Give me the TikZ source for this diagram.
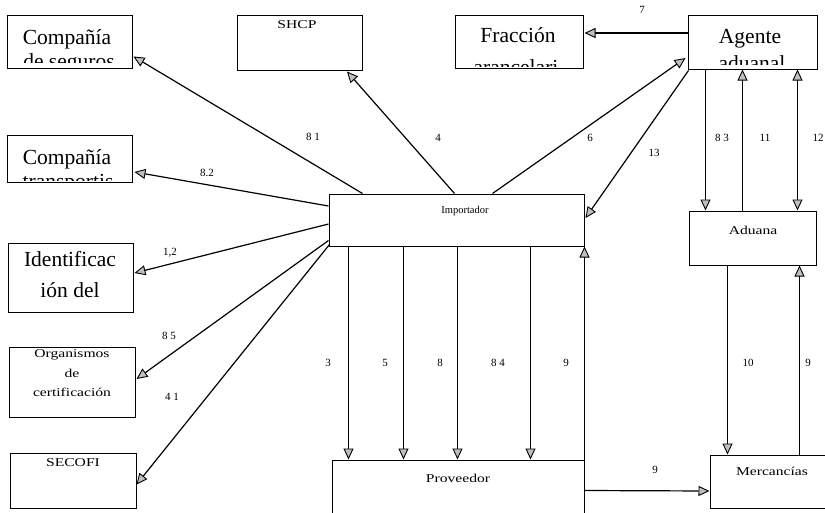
\documentclass[tikz,border=0pt]{standalone}
\usepackage{fontspec}
\setmainfont{Liberation Serif}
\usepackage{graphicx}
\usetikzlibrary{arrows.meta,calc}
\newcommand{\hs}[1]{\scalebox{1.3}[1]{#1}}
\begin{document}
\begin{tikzpicture}[x=1pt,y=-1pt,
  box/.style={draw, line width=1pt, rectangle, inner sep=0pt},
  big/.style={font=\fontsize{21.5}{24}\selectfont, inner sep=0pt, anchor=base},
  small/.style={font=\fontsize{12}{14}\selectfont, inner sep=0pt},
  lbl/.style={font=\fontsize{11}{13}\selectfont, inner sep=0pt},
  arr/.style={line width=1.2pt, -{Triangle[length=11pt,width=10pt,fill=gray!50,line width=0.9pt]}},
  darr/.style={line width=1.2pt, {Triangle[length=11pt,width=10pt,fill=gray!50,line width=0.9pt]}-{Triangle[length=11pt,width=10pt,fill=gray!50,line width=0.9pt]}},
]
\useasboundingbox (0,0) rectangle (825,512);
\clip (0,0) rectangle (825,512);
\fill[white] (0,0) rectangle (825,512);

% boxes
\node[box, minimum width=125pt, minimum height=53pt] (seg) at (69.5,41.5) {};
\node[box, minimum width=125pt, minimum height=55pt] (shcp) at (299.5,42.5) {};
\node[box, minimum width=128pt, minimum height=53pt] (frac) at (519,41.5) {};
\node[box, minimum width=129pt, minimum height=54pt] (agen) at (752.5,42) {};
\node[box, minimum width=125pt, minimum height=47pt] (trans) at (69.5,158.5) {};
\node[box, minimum width=125pt, minimum height=69pt] (ident) at (70.5,277.5) {};
\node[box, minimum width=126pt, minimum height=70pt] (org) at (72,382) {};
\node[box, minimum width=126pt, minimum height=55pt] (secofi) at (73,480.5) {};
\node[box, minimum width=255pt, minimum height=52pt] (imp) at (456.5,220) {};
\node[box, minimum width=127pt, minimum height=54pt] (adu) at (752.5,238) {};
\node[box, minimum width=252pt, minimum height=80pt] (prov) at (458,500) {};
\node[box, minimum width=130pt, minimum height=53pt] (merc) at (775,481.5) {};

% large (clipped) texts
\node[big] (segA) at (67,44) {Compañía};
\begin{scope}
  \clip (8,16) rectangle (131,62);
  \node[big] (segB) at (69,68) {de seguros};
\end{scope}
\node[big] (fracA) at (518,42) {Fracción};
\begin{scope}
  \clip (456,16) rectangle (582,66);
  \node[big] (fracB) at (516,74) {arancelari};
\end{scope}
\node[big] (agenA) at (750,43) {Agente};
\begin{scope}
  \clip (689,16) rectangle (816,64);
  \node[big] (agenB) at (752,70) {aduanal};
\end{scope}
\node[big] (transA) at (67,164) {Compañía};
\begin{scope}
  \clip (8,136) rectangle (131,180);
  \node[big] (transB) at (68,188) {transportis};
\end{scope}
\node[big] (identA) at (70,266) {Identificac};
\node[big] (identB) at (70,297) {ión del};
\begin{scope}
  \clip (9,244) rectangle (132,309);
  \node[big] (identC) at (70,325) {importador};
\end{scope}

% small texts
\node[small] (shcpT) at (297,25) {\hs{SHCP}};
\node[small] (orgA) at (72,355) {\hs{Organismos}};
\node[small] (orgB) at (72,373) {\hs{de}};
\node[small] (orgC) at (72,392) {\hs{certificación}};
\node[small] (secofiT) at (73,463) {\hs{SECOFI}};
\node[font=\fontsize{10.5}{12}\selectfont, inner sep=0pt] (impT) at (465,211) {Importador};
\node[small] (aduT) at (753,230) {\hs{Aduana}};
\node[small] (provT) at (458,478) {\hs{Proveedor}};
\node[small] (mercT) at (772,471) {\hs{Mercancías}};

% connectors
\draw[arr] ($(imp.north west)+(34,0)$) -- ($(seg.east)+(1,15)$);
\draw[arr] ($(imp.north west)+(126,0)$) -- ($(shcp.south)+(47.5,1)$);
\draw[arr] ($(imp.north west)+(164,0)$) -- ($(agen.west)+(-2,16)$);
\draw[arr] ($(agen.west)+(0,-9)$) -- ($(frac.east)+(1,-8.5)$);
\draw[arr] ($(agen.south west)+(1,1)$) -- ($(imp.east)+(1,-2)$);
\draw[arr] ($(agen.south west)+(18,0)$) -- ($(adu.north west)+(17,0)$);
\draw[arr] ($(adu.north west)+(54,0)$) -- ($(agen.south west)+(55,0)$);
\draw[darr] ($(agen.south west)+(110,0)$) -- ($(adu.north west)+(109,0)$);
\draw[arr] ($(imp.west)+(0,-14)$) -- ($(trans.east)+(2,13.5)$);
\draw[arr] ($(imp.west)+(0,4)$) -- ($(ident.east)+(1,-4.5)$);
\draw[arr] ($(imp.south west)+(0,-6)$) -- ($(org.east)+(1,-3)$);
\draw[arr] ($(imp.south west)+(1,-2)$) -- ($(secofi.east)+(0,4)$);
\draw[arr] ($(imp.south west)+(20,0)$) -- ($(prov.north west)+(17,0)$);
\draw[arr] ($(imp.south west)+(75,0)$) -- ($(prov.north west)+(72,0)$);
\draw[arr] ($(imp.south west)+(129,0)$) -- ($(prov.north west)+(126,0)$);
\draw[arr] ($(imp.south west)+(202,0)$) -- ($(prov.north west)+(199,0)$);
\draw[arr] (prov.north east) -- (imp.south east);
\draw[arr] ($(prov.north east)+(0,31)$) -- ($(merc.west)+(0,9.5)$);
\draw[arr] ($(adu.south west)+(39,0)$) -- ($(merc.north west)+(18,0)$);
\draw[arr] ($(merc.north west)+(90,0)$) -- ($(adu.south west)+(111,0)$);

% labels
\node[lbl] (l81) at (313,137) {8 1};
\node[lbl] (l4) at (438,138) {4};
\node[lbl] (l6) at (590,138) {6};
\node[lbl] (l7) at (642,10) {7};
\node[lbl] (l13) at (654,153) {13};
\node[lbl] (l83) at (722,138) {8 3};
\node[lbl] (l11) at (765,138) {11};
\node[lbl] (l12) at (818,138) {12};
\node[lbl] (l82) at (207,173) {8.2};
\node[lbl] (l12b) at (170,253) {1,2};
\node[lbl] (l85) at (169,336) {8 5};
\node[lbl] (l41) at (172,397) {4 1};
\node[lbl] (l3) at (328,363) {3};
\node[lbl] (l5) at (385,363) {5};
\node[lbl] (l8) at (440,363) {8};
\node[lbl] (l84) at (498,363) {8 4};
\node[lbl] (l9a) at (566,363) {9};
\node[lbl] (l10) at (748,363) {10};
\node[lbl] (l9b) at (808,363) {9};
\node[lbl] (l9c) at (655,470) {9};
\end{tikzpicture}
\end{document}
